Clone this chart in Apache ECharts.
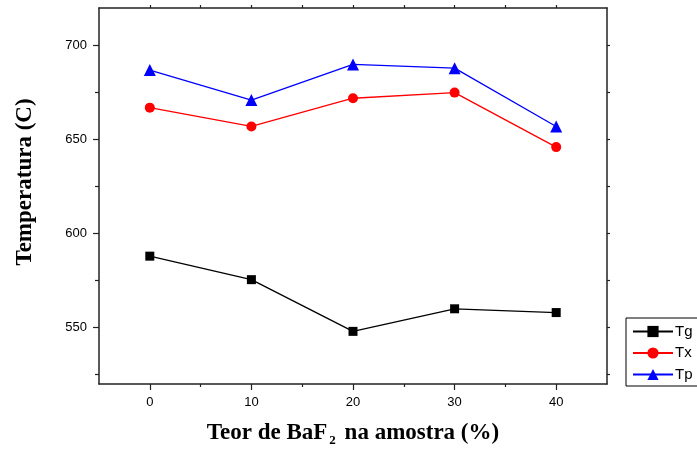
<!DOCTYPE html>
<html>
<head>
<meta charset="utf-8">
<script src="https://cdn.jsdelivr.net/npm/echarts@6/dist/echarts.min.js"></script>
<style>
  html, body { margin: 0; padding: 0; background: #fff; }
  #chart { width: 697px; height: 452px; }
</style>
</head>
<body>
<div id="chart"></div>
<script>
// BaF2 content in the sample (%)
const baf2Content = [0, 10, 20, 30, 40];
// Characteristic temperatures (C)
const tgValues = [588, 575.5, 548, 560, 558];
const txValues = [667, 657, 672, 675, 646];
const tpValues = [687, 671, 690, 688, 657];

// Tick positions
const xMajorTicks = [0, 10, 20, 30, 40];
const xMinorTicks = [5, 15, 25, 35];
const yMajorTicks = [550, 600, 650, 700];
const yMinorTicks = [525, 575, 625, 675];

const xRange = [-5, 45];
const yRange = [520, 720];

const frameColor = '#222';
const serif = 'Liberation Serif, Times New Roman, serif';
const sans = 'Liberation Sans, Arial, sans-serif';
const labelFont = { fontFamily: sans, fontSize: 13, color: '#000' };

function pairs(xs, ys) { return xs.map((x, i) => [x, ys[i]]); }

const chart = echarts.init(document.getElementById('chart'), null, { renderer: 'canvas' });

chart.setOption({
  backgroundColor: '#fff',
  animation: false,
  grid: { left: 99, right: 90, top: 8, bottom: 68, containLabel: false, outerBoundsMode: 'none' },
  legend: {
    orient: 'vertical',
    left: 626, top: 318,
    padding: [6, 30, 4, 6],
    itemWidth: 40, itemHeight: 14, itemGap: 6.5,
    borderColor: '#000', borderWidth: 1,
    backgroundColor: '#fff',
    textStyle: { fontFamily: sans, fontSize: 15, lineHeight: 14, color: '#000', padding: [0, 0, 0, -3] },
    data: ['Tg', 'Tx', 'Tp']
  },
  xAxis: [
    {
      type: 'value', position: 'bottom', min: xRange[0], max: xRange[1],
      splitLine: { show: false },
      axisLine: { show: true, onZero: false, lineStyle: { color: frameColor, width: 1.5 } },
      axisTick: { show: true, inside: false, length: 6, customValues: xMajorTicks, lineStyle: { color: frameColor, width: 1.2 } },
      axisLabel: Object.assign({ show: true, margin: 12, customValues: xMajorTicks }, labelFont),
      name: '{t|Teor de BaF}{s|2}{t| na amostra (%)}',
      nameLocation: 'middle', nameGap: 36,
      nameTextStyle: {
        rich: {
          t: { fontFamily: serif, fontWeight: 'bold', fontSize: 23, lineHeight: 26, color: '#000' },
          s: { fontFamily: serif, fontWeight: 'bold', fontSize: 13, lineHeight: 26, color: '#000', padding: [16, 3, 0, 2] }
        }
      }
    },
    {
      type: 'value', position: 'bottom', min: xRange[0], max: xRange[1],
      splitLine: { show: false },
      axisLine: { show: false, onZero: false },
      axisTick: { show: true, length: 3, customValues: xMinorTicks, lineStyle: { color: frameColor, width: 1.2 } },
      axisLabel: { show: false }
    },
    {
      type: 'value', position: 'top', min: xRange[0], max: xRange[1],
      splitLine: { show: false },
      axisLine: { show: true, onZero: false, lineStyle: { color: frameColor, width: 1.5 } },
      axisTick: { show: true, length: 3, customValues: xMajorTicks.concat(xMinorTicks), lineStyle: { color: frameColor, width: 1.2 } },
      axisLabel: { show: false }
    }
  ],
  yAxis: [
    {
      type: 'value', position: 'left', min: yRange[0], max: yRange[1],
      splitLine: { show: false },
      axisLine: { show: true, onZero: false, lineStyle: { color: frameColor, width: 1.5 } },
      axisTick: { show: true, length: 6, customValues: yMajorTicks, lineStyle: { color: frameColor, width: 1.2 } },
      axisLabel: Object.assign({ show: true, margin: 12, customValues: yMajorTicks }, labelFont)
    },
    {
      type: 'value', position: 'left', min: yRange[0], max: yRange[1],
      splitLine: { show: false },
      axisLine: { show: false, onZero: false },
      axisTick: { show: true, length: 4, customValues: yMinorTicks, lineStyle: { color: frameColor, width: 1.2 } },
      axisLabel: { show: false }
    },
    {
      type: 'value', position: 'right', min: yRange[0], max: yRange[1],
      splitLine: { show: false },
      axisLine: { show: true, onZero: false, lineStyle: { color: frameColor, width: 1.5 } },
      axisTick: { show: true, length: 3, customValues: yMajorTicks.concat(yMinorTicks), lineStyle: { color: frameColor, width: 1.2 } },
      axisLabel: { show: false }
    }
  ],
  graphic: [
    {
      type: 'text',
      x: 25, y: 182,
      rotation: Math.PI / 2,
      style: {
        text: 'Temperatura (C)',
        fontFamily: serif,
        fontWeight: 'bold', fontSize: 23, fill: '#000',
        align: 'center', verticalAlign: 'middle'
      }
    }
  ],
  series: [
    {
      name: 'Tg', type: 'line', xAxisIndex: 0, yAxisIndex: 0,
      data: pairs(baf2Content, tgValues),
      symbol: 'rect', symbolSize: 9,
      lineStyle: { color: '#000', width: 1.3 },
      itemStyle: { color: '#000' }
    },
    {
      name: 'Tx', type: 'line', xAxisIndex: 0, yAxisIndex: 0,
      data: pairs(baf2Content, txValues),
      symbol: 'circle', symbolSize: 10,
      lineStyle: { color: '#ff0000', width: 1.3 },
      itemStyle: { color: '#ff0000' }
    },
    {
      name: 'Tp', type: 'line', xAxisIndex: 0, yAxisIndex: 0,
      data: pairs(baf2Content, tpValues),
      symbol: 'triangle', symbolSize: 12,
      lineStyle: { color: '#0000ff', width: 1.3 },
      itemStyle: { color: '#0000ff' }
    }
  ]
});
</script>
</body>
</html>
